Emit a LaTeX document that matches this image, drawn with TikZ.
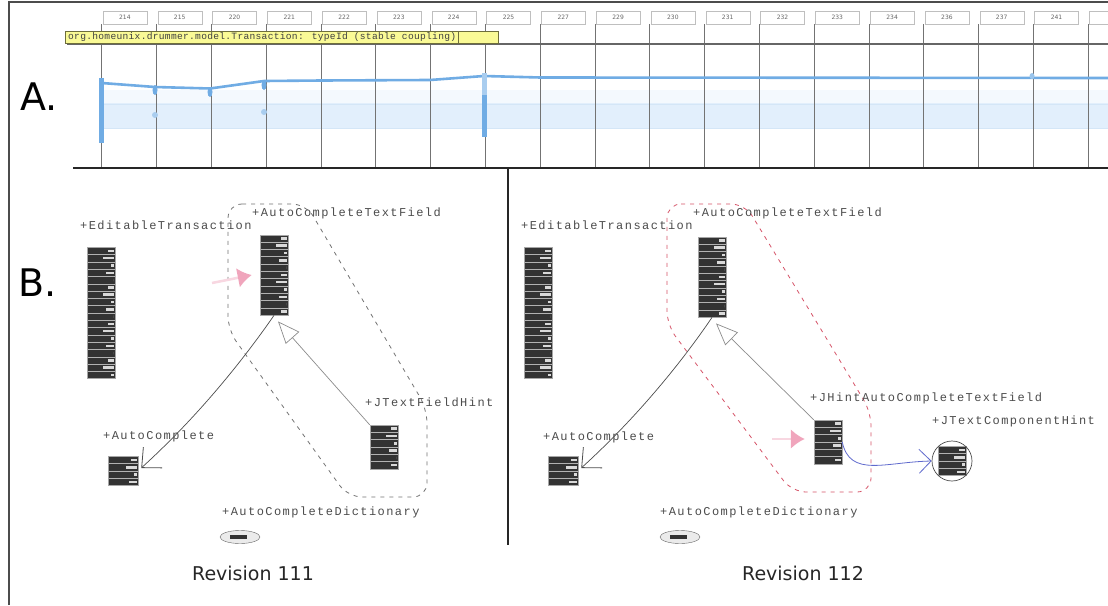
\documentclass[tikz,border=0pt]{standalone}
\usepackage{fontspec}
\setmainfont{DejaVu Sans}
\newfontfamily\lblfont[LetterSpace=12]{Liberation Mono}
\newfontfamily\tipfont[LetterSpace=3]{Liberation Mono}
\usetikzlibrary{arrows.meta,shapes.geometric}
\definecolor{chartblue}{RGB}{112,172,228}
\definecolor{bandblue}{RGB}{226,239,252}
\definecolor{dashred}{RGB}{214,84,104}
\definecolor{pinkarrow}{RGB}{240,165,188}
\definecolor{curveblue}{RGB}{95,105,205}
\definecolor{tipyellow}{RGB}{250,250,150}
\definecolor{tipborder}{RGB}{110,110,60}
\tikzset{
  colbox/.style={draw=black!25, fill=white, minimum width=44pt, minimum height=12.5pt,
    inner sep=0pt, anchor=north west, font=\fontsize{6}{6}\selectfont, text=black!60},
  colline/.style={draw=black!55, line width=0.7pt},
  clslabel/.style={font=\lblfont\fontsize{12}{12}\selectfont, text=black!70, anchor=west, inner sep=0pt},
  cls/.style={rectangle, draw=black!35, line width=0.5pt, fill=black!80, inner sep=0pt,
    minimum width=28pt, minimum height={#1*7.3pt},
    path picture={
      \foreach \k in {1,...,#1}{
        \pgfmathsetmacro{\ww}{mod(\k*7,5)*2.6}
        \fill[white!85!black] ([xshift={-(\ww+1.5)*1pt}, yshift={-(\k-1)*7.3pt-2.3pt}]path picture bounding box.north east)
          rectangle ([xshift=-1.5pt, yshift={-(\k-1)*7.3pt-4.8pt}]path picture bounding box.north east);
        \draw[white!70!black, line width=0.6pt] ([yshift={-\k*7.3pt}]path picture bounding box.north west)
          -- ([yshift={-\k*7.3pt}]path picture bounding box.north east);
      }}},
  dict/.style={ellipse, draw=black!60, fill=black!8, minimum width=40pt, minimum height=13pt, inner sep=0pt,
    path picture={\fill[black!80] ([xshift=-10pt,yshift=-2pt]path picture bounding box.center)
      rectangle ([xshift=7pt,yshift=2pt]path picture bounding box.center);}},
  dashgray/.style={draw=black!55, dash pattern=on 4pt off 5pt, line width=0.8pt, rounded corners=14pt},
  dashpink/.style={draw=dashred, dash pattern=on 4pt off 5pt, line width=0.8pt, rounded corners=14pt},
  assoc/.style={draw=black!70, line width=0.7pt, -{Straight Barb[length=15pt,width=28pt,line width=0.8pt]}},
  inherit/.style={draw=black!45, line width=0.7pt, -{Triangle[open,length=22pt,width=18pt,fill=white]}},
  pinkarr/.style={draw=pinkarrow!45, line width=2.5pt, -{Latex[length=14pt,width=20pt,color=pinkarrow]}},
  bluearr/.style={draw=curveblue, line width=0.8pt, -{Straight Barb[length=12pt,width=24pt,line width=0.8pt]}},
  revlabel/.style={font=\fontsize{19}{19}\selectfont, text=black!85, inner sep=0pt},
  biglabel/.style={font=\fontsize{38}{38}\selectfont, text=black, inner sep=0pt}
}
\begin{document}
\begin{tikzpicture}[x=1pt,y=-1pt]
\useasboundingbox (0,0) rectangle (1108,605);
\fill[white] (0,0) rectangle (1108,605);
\begin{scope}
\clip (0,0) rectangle (1108,605);
% outer frame
\draw[black!70, line width=1.3pt] (9,605) -- (9,2) -- (1108,2);
% ---------- Part A: chart ----------
\fill[bandblue] (101.7,103) rectangle (1108,128);
\fill[bandblue!40] (101.7,90) rectangle (1108,103);
\draw[chartblue!30, line width=0.6pt] (101.7,104) -- (1108,104);
\draw[chartblue!30, line width=0.6pt] (101.7,128) -- (1108,128);
\foreach \i/\lab in {0/214,1/215,2/220,3/221,4/222,5/223,6/224,7/225,8/227,9/229,10/230,11/231,12/232,13/233,14/234,15/236,16/237,17/241,18/{}}{
  \draw[colline] (101.7+\i*54.8,24) -- (101.7+\i*54.8,168);
  \node[colbox] (col\i) at (102.7+\i*54.8,11) {\lab};
}
\draw[black!60, line width=1.3pt] (67,44) -- (1108,44);
\draw[black!85, line width=1.3pt] (73,168) -- (1108,168);
% blue series
\draw[chartblue, line width=2.6pt, line join=round] (101.7,83) -- (155,87) -- (210,88.5) -- (264,81) -- (321.7,80.5) -- (430,80) -- (484,76) -- (540,77.5) -- (1108,78);
\draw[chartblue, line width=5pt] (101.7,78) -- (101.7,143);
\draw[chartblue!60, line width=5pt] (484,73) -- (484,95);
\draw[chartblue, line width=5pt] (484,95) -- (484,137);
\fill[chartblue] (155,90) ellipse (2.5 and 5);
\fill[chartblue!60] (155,115) ellipse (3 and 3);
\fill[chartblue] (210,92) ellipse (2.5 and 5);
\fill[chartblue] (264,85) ellipse (2.5 and 5);
\fill[chartblue!60] (264,112) ellipse (3 and 3);
\fill[chartblue!70] (1032,76) ellipse (2.5 and 3);
% tooltip
\draw[tipborder, fill=tipyellow, line width=0.8pt] (65,31) rectangle (458,43);
\draw[tipborder, fill=tipyellow, line width=0.8pt] (458,31) rectangle (498,43);
\node[font=\tipfont\fontsize{9.6}{9.6}\selectfont, text=black!75, anchor=west, inner sep=0pt] (tip) at (68,37.5) {org.homeunix.drummer.model.Transaction: typeId (stable coupling)};
\node[biglabel] (labA) at (39,97) {A.};
\end{scope}
% ---------- Part B ----------
\node[biglabel] (labB) at (38,283) {B.};
\draw[black!85, line width=1.2pt] (508,168) -- (508,545);
% dashed regions
\draw[dashgray] (228,204) -- (306,204) -- (427,409) -- (427,497) -- (348,497) -- (228,330) -- cycle;
\draw[dashpink] (667,204) -- (745,204) -- (871,412) -- (871,492) -- (792,492) -- (667,325) -- cycle;
% left panel (Revision 111)
\node[clslabel] (lEtT) at (80,225) {+EditableTransaction};
\node[cls=18] (lEt) at (101,313) {};
\node[clslabel] (lActfT) at (252,213) {+AutoCompleteTextField};
\node[cls=11] (lActf) at (274,275) {};
\node[clslabel] (lJtfhT) at (365,402) {+JTextFieldHint};
\node[cls=6] (lJtfh) at (384,447) {};
\node[clslabel] (lAcT) at (103,436) {+AutoComplete};
\node[cls=4, minimum width=30pt] (lAc) at (123,471) {};
\node[clslabel] (lDictT) at (222,512) {+AutoCompleteDictionary};
\node[dict] (lDict) at (240,537) {};
\coordinate (lPinkStart) at (212,283);
\draw[pinkarr] (lPinkStart) -- ([xshift=-8pt]lActf.west);
\draw[assoc] (lActf.south) .. controls (250,350) and (205,410) .. ([xshift=3pt,yshift=3pt]lAc.east);
\draw[inherit] (lJtfh.north west) -- ([xshift=4pt,yshift=-6pt]lActf.south);
\node[revlabel] (rev111) at (253,573) {Revision 111};
% right panel (Revision 112)
\node[clslabel] (rEtT) at (521,225) {+EditableTransaction};
\node[cls=18] (rEt) at (538,313) {};
\node[clslabel] (rActfT) at (693,213) {+AutoCompleteTextField};
\node[cls=11] (rActf) at (712,277) {};
\node[clslabel] (rJhT) at (810,398) {+JHintAutoCompleteTextField};
\node[cls=6] (rJh) at (828,442) {};
\node[clslabel] (rJtchT) at (932,421) {+JTextComponentHint};
\node[cls=4] (rJtch) at (952,461) {};
\node[circle, draw=black!70, line width=0.7pt, minimum size=40pt, inner sep=0pt] (rJtchC) at (952,461) {};
\node[clslabel] (rAcT) at (543,437) {+AutoComplete};
\node[cls=4, minimum width=30pt] (rAc) at (563,471) {};
\node[clslabel] (rDictT) at (660,512) {+AutoCompleteDictionary};
\node[dict] (rDict) at (680,537) {};
\coordinate (rPinkStart) at (772,439);
\draw[pinkarr] (rPinkStart) -- ([xshift=-9pt,yshift=3pt]rJh.west);
\draw[assoc] (rActf.south) .. controls (690,350) and (645,410) .. ([xshift=3pt,yshift=3pt]rAc.east);
\draw[inherit] (rJh.north west) -- ([xshift=4pt,yshift=-6pt]rActf.south);
\draw[bluearr] (rJh.east) .. controls (850,478) and (885,462) .. (rJtchC.west);
\node[revlabel] (rev112) at (803,573) {Revision 112};
\end{tikzpicture}
\end{document}
